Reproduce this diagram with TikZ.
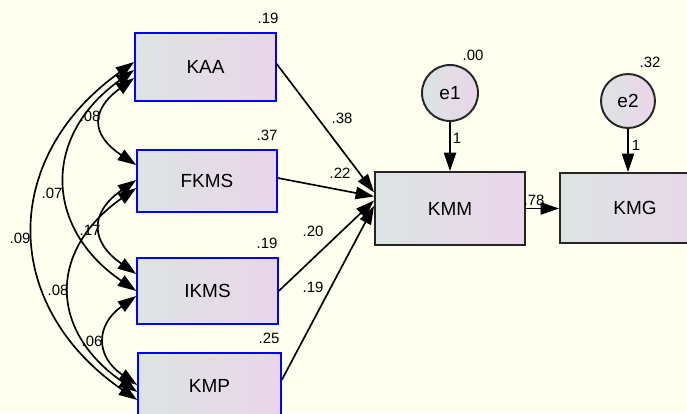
\documentclass[tikz,border=0pt]{standalone}
\usepackage{fontspec}
\setmainfont{Liberation Sans}
\usetikzlibrary{arrows.meta,calc}
\definecolor{paper}{RGB}{255,255,240}
\definecolor{boxleft}{RGB}{220,228,226}
\definecolor{boxright}{RGB}{234,213,234}
\begin{document}
\begin{tikzpicture}[x=0.02cm,y=0.02cm,
    observed/.style={rectangle,draw=blue,line width=0.9pt,left color=boxleft,right color=boxright,
        inner sep=0pt,font=\fontsize{10.8}{12}\selectfont},
    endog/.style={observed,draw=black!85,line width=1.1pt},
    errvar/.style={circle,draw=black!85,line width=1.1pt,inner sep=0pt,left color=boxleft,right color=boxright,
        font=\fontsize{10.8}{12}\selectfont},
    estlab/.style={inner sep=0pt,font=\fontsize{8.5}{10}\selectfont},
    regarrow/.style={line width=0.95pt,-{Triangle[length=10.5pt,width=7pt]}},
    covarc/.style={line width=0.95pt,{Triangle[length=10.5pt,width=7pt]}-{Triangle[length=10.5pt,width=7pt]}}]
    %% page and background
    \useasboundingbox (0,0) rectangle (687,413);
    \clip (0,0) rectangle (687,413);
    \fill[paper] (0,0) rectangle (687,413);
    %% observed variables
    \node[observed,minimum width=2.82cm,minimum height=1.36cm] (KAA) at (205.5,346) {KAA};
    \node[observed,minimum width=2.80cm,minimum height=1.24cm] (FKMS) at (207,232) {FKMS};
    \node[observed,minimum width=2.82cm,minimum height=1.32cm] (IKMS) at (207.5,122) {IKMS};
    \node[observed,minimum width=2.86cm,minimum height=1.32cm] (KMP) at (209.5,27) {KMP};
    \node[endog,minimum width=3.00cm,minimum height=1.46cm] (KMM) at (450,204.5) {KMM};
    \node[endog,minimum width=3.00cm,minimum height=1.40cm] (KMG) at (635,205) {KMG};
    %% error terms
    \node[errvar,minimum size=1.12cm] (e1) at (450,320) {e1};
    \node[errvar,minimum size=1.08cm] (e2) at (628,312) {e2};
    %% regression paths
    \draw[regarrow] ($(KAA.east)+(0,3)$) -- (KMM.168);
    \draw[regarrow] ($(FKMS.east)+(0,3)$) -- (KMM.171);
    \draw[regarrow] (IKMS.east) -- (KMM.174);
    \draw[regarrow] ($(KMP.east)+(0,6)$) -- (KMM.178);
    \draw[regarrow] (KMM.east) -- (KMG.west |- KMM.east);
    \draw[regarrow] (e1) -- (KMM.north);
    \draw[regarrow] (e2) -- (e2 |- KMG.north);
    %% covariances
    \draw[covarc] ($(KAA.west)+(0,-11)$) to[bend right=55,looseness=1.6] ($(FKMS.west)+(0,16)$);
    \draw[covarc] ($(KAA.west)+(0,-3)$) to[bend right=55,looseness=1.3] (IKMS.west);
    \draw[covarc] ($(KAA.west)+(0,5)$) to[bend right=55,looseness=1.25] ($(KMP.west)+(0,-14)$);
    \draw[covarc] ($(FKMS.west)+(0,1)$) to[bend right=55,looseness=1.55] ($(IKMS.west)+(0,17)$);
    \draw[covarc] ($(FKMS.west)+(0,-7)$) to[bend right=55,looseness=1.35] ($(KMP.west)+(0,-6)$);
    \draw[covarc] ($(IKMS.west)+(0,-5)$) to[bend right=55,looseness=1.45] ($(KMP.west)+(0,1)$);
    %% squared multiple correlations
    \node[estlab] (r2KAA) at (268,395) {.19};
    \node[estlab] (r2FKMS) at (267,278) {.37};
    \node[estlab] (r2IKMS) at (267,170) {.19};
    \node[estlab] (r2KMP) at (269,75) {.25};
    \node[estlab] (r2KMM) at (473,358) {.00};
    \node[estlab] (r2KMG) at (650,351) {.32};
    %% path estimates
    \node[estlab] (bKAA) at (342,295) {.38};
    \node[estlab] (bFKMS) at (340,240) {.22};
    \node[estlab] (bIKMS) at (313,182) {.20};
    \node[estlab] (bKMP) at (313,126) {.19};
    \node[estlab] (bKMM) at (534,213) {.78};
    \node[estlab] (fixe1) at (457,275) {1};
    \node[estlab] (fixe2) at (636,268) {1};
    %% covariance estimates
    \node[estlab] (cKAAFKMS) at (90,297) {.08};
    \node[estlab] (cKAAIKMS) at (52,220) {.07};
    \node[estlab] (cKAAKMP) at (20,175) {.09};
    \node[estlab] (cFKMSIKMS) at (90,183) {.17};
    \node[estlab] (cFKMSKMP) at (58,123) {.08};
    \node[estlab] (cIKMSKMP) at (92,72) {.06};
\end{tikzpicture}
\end{document}
